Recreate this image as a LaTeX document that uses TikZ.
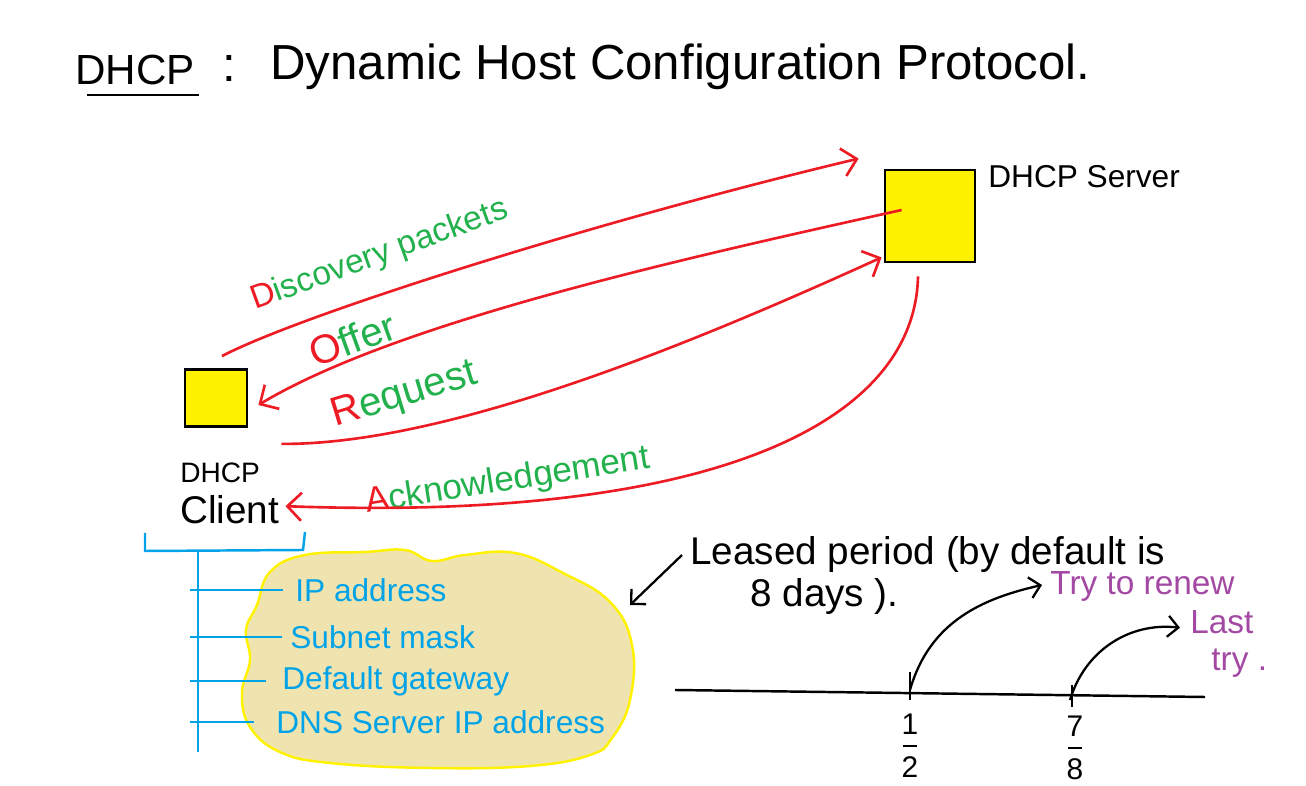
\documentclass[tikz,border=0pt]{standalone}
\usepackage{fontspec}
\setmainfont{Liberation Sans}
\usetikzlibrary{arrows.meta}

\definecolor{dhcpred}{HTML}{ED1C24}
\definecolor{dhcpgreen}{HTML}{22B14C}
\definecolor{dhcpblue}{HTML}{00A2E8}
\definecolor{dhcpyellow}{HTML}{FFF200}
\definecolor{dhcppurple}{HTML}{A349A4}
\definecolor{dhcptan}{HTML}{EFE4B0}

\tikzset{
  dhcpbox/.style={draw=black, fill=dhcpyellow, line width=1.6pt, inner sep=0pt},
  msgarrow/.style={draw=dhcpred, line width=1.5pt, -{Straight Barb[length=8pt,width=16pt]}},
  msglabel/.style={text=dhcpgreen, inner sep=0pt, anchor=base west},
  hostlabel/.style={text=black, inner sep=0pt, font=\fontsize{18}{21}\selectfont},
  paramlabel/.style={text=dhcpblue, inner sep=0pt, anchor=west, font=\fontsize{18}{21}\selectfont},
  paramline/.style={draw=dhcpblue, line width=1.4pt},
  notelabel/.style={text=black, inner sep=0pt, anchor=base west, font=\fontsize{22}{26}\selectfont},
  trylabel/.style={text=dhcppurple, inner sep=0pt, font=\fontsize{19}{23}\selectfont},
  fraclabel/.style={inner sep=0pt, anchor=north, align=center, font=\fontsize{17}{12}\selectfont},
  timeline/.style={draw=black, line width=1.4pt},
  tryarrow/.style={draw=black, line width=1.3pt, -{Straight Barb[length=6pt,width=12pt]}}
}

\begin{document}
\begin{tikzpicture}[x=0.02cm, y=-0.02cm]
\useasboundingbox (0,0) rectangle (1306,786);

\node[inner sep=0pt, anchor=base west, font=\fontsize{24}{28}\selectfont] (dhcp) at (75,85) {DHCP};
\draw[line width=1.4pt] ([shift={(12,10)}]dhcp.base west) -- ([shift={(4,10)}]dhcp.base east);
\node[inner sep=0pt, anchor=base west, font=\fontsize{28}{32}\selectfont] (colon) at (222,82) {:};
\node[inner sep=0pt, anchor=base west, font=\fontsize{28}{32}\selectfont] (title) at (270,80) {Dynamic Host Configuration Protocol.};

\node[dhcpbox, minimum width=1.24cm, minimum height=1.14cm] (client) at (216,398) {};
\node[dhcpbox, minimum width=1.8cm, minimum height=1.84cm] (server) at (930,216) {};

\node[hostlabel, anchor=base west, font=\fontsize{16}{19}\selectfont] (clientdhcp) at (180,483) {DHCP};
\node[hostlabel, anchor=base west, font=\fontsize{22}{26}\selectfont] (clientname) at (180,524) {Client};
\node[hostlabel, anchor=base west] (servername) at (988,188) {DHCP Server};

\node[msglabel, rotate=20, font=\fontsize{19}{23}\selectfont] (discover) at (255,310) {\textcolor{dhcpred}{D}iscovery packets};
\node[msglabel, rotate=20, font=\fontsize{23}{27}\selectfont] (offer) at (315,368) {\textcolor{dhcpred}{O}ffer};
\node[msglabel, rotate=17, font=\fontsize{23}{27}\selectfont] (request) at (335,427) {\textcolor{dhcpred}{R}equest};
\node[msglabel, rotate=9, font=\fontsize{20}{24}\selectfont] (ack) at (367,513) {\textcolor{dhcpred}{A}cknowledgement};

\draw[msgarrow] ([shift={(6,-12)}]client.north) .. controls (300,315) and (600,220) .. ([shift={(-25,-10)}]server.north west);
\draw[msgarrow] ([shift={(18,-6)}]server.west) .. controls (700,255) and (400,320) .. ([shift={(10,7)}]client.east);
\draw[msgarrow] ([shift={(33,16)}]client.south east) .. controls (450,445) and (700,340) .. ([shift={(-2,-6)}]server.south west);
\draw[msgarrow] ([shift={(-12,13)}]server.south) .. controls (915,420) and (720,522) .. ([shift={(6,-4)}]clientname.east);

\draw[paramline] (145,533) -- (145,551) -- (303,550) -- (305,532);
\draw[paramline] (198,551) -- (198,752);

\draw[draw=dhcpyellow, fill=dhcptan, line width=1.4pt] plot[smooth cycle, tension=0.7] coordinates {
  (270,572) (305,555) (365,552) (405,550) (432,561) (465,555) (515,553) (563,573)
  (610,602) (632,645) (630,700) (612,738) (590,755) (530,766) (430,768) (330,763)
  (280,752) (250,727) (242,693) (250,660) (246,630) (257,605)};
\coordinate (cloudtip) at (630,605);

\node[paramlabel] (ipaddr) at (295,590) {IP address};
\node[paramlabel] (subnet) at (290,637) {Subnet mask};
\node[paramlabel] (gateway) at (282,681) {Default gateway};
\node[paramlabel] (dnsaddr) at (276,722) {DNS Server IP address};

\draw[paramline] (190,590) -- ([shift={(-12,0)}]ipaddr.west);
\draw[paramline] (190,637) -- ([shift={(-8,0)}]subnet.west);
\draw[paramline] (190,681) -- ([shift={(-16,0)}]gateway.west);
\draw[paramline] (190,722) -- ([shift={(-22,0)}]dnsaddr.west);

\node[notelabel] (leased) at (690,565) {Leased period (by default is};
\node[notelabel] (leasedays) at (750,607) {8 days ).};
\draw[tryarrow] ([shift={(-8,0)}]leased.west) -- (cloudtip);

\draw[timeline] (675,690) -- (1205,697);
\draw[timeline] (910,672) -- (910,700);
\draw[timeline] (1072,685) -- (1072,707);
\coordinate (half) at (910,690);
\coordinate (seveneighths) at (1070,700);

\node[fraclabel] (halflabel) at (910,714) {1\\\rule[0.3em]{0.5em}{1pt}\\2};
\node[fraclabel] (sevenlabel) at (1075,716) {7\\\rule[0.3em]{0.5em}{1pt}\\8};

\node[trylabel, anchor=base west] (renew) at (1050,595) {Try to renew};
\node[trylabel, align=left, anchor=north west] (lasttry) at (1190,610) {Last\\[-2pt]\hspace{12pt}try .};

\draw[tryarrow] (half) .. controls (930,620) and (985,598) .. ([shift={(-8,-2)}]renew.west);
\draw[tryarrow] (seveneighths) .. controls (1085,650) and (1130,622) .. ([shift={(-10,-16)}]lasttry.west);
\end{tikzpicture}
\end{document}
